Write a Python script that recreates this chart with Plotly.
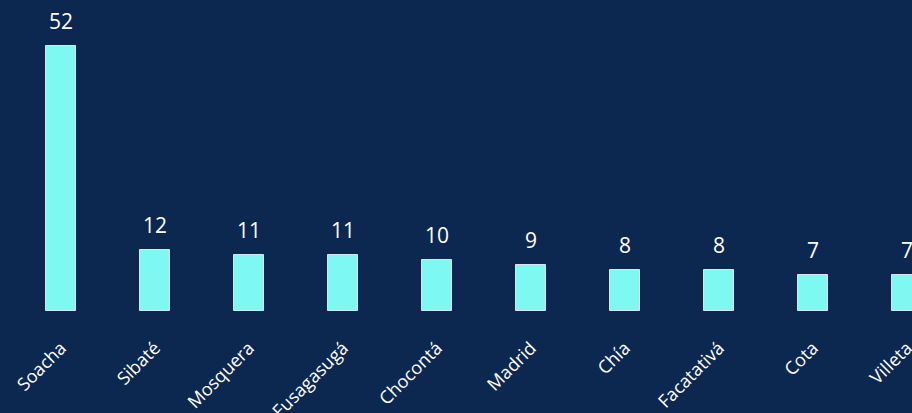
import plotly.graph_objects as go

categories = ["Soacha", "Sibaté", "Mosquera", "Fusagasugá", "Chocontá", "Madrid", "Chía", "Facatativá", "Cota", "Villeta"]
values = [52, 12, 11, 11, 10, 9, 8, 8, 7, 7]

BG = "#0C2850"
BAR = "#7DF9F1"
FONT = "Open Sans"

x_idx = list(range(len(categories)))

fig = go.Figure()
fig.add_trace(go.Bar(
    x=x_idx, y=values,
    width=0.32,
    marker=dict(color=BAR, line=dict(color="rgba(230,240,250,0.9)", width=1)),
    hoverinfo="skip",
))

for xi, v in zip(x_idx, values):
    fig.add_annotation(x=xi, y=v, text=str(v), showarrow=False,
                       yanchor="bottom", yshift=9,
                       font=dict(family=FONT, size=21, color="white"))

fig.update_layout(
    width=912, height=413,
    paper_bgcolor=BG, plot_bgcolor=BG,
    margin=dict(l=0, r=0, t=0, b=102, autoexpand=False),
    showlegend=False,
    bargap=0,
    xaxis=dict(
        range=[-0.649, 9.053],
        tickmode="array", tickvals=x_idx, ticktext=categories,
        tickangle=-45,
        tickfont=dict(family=FONT, size=18, color="white"),
        showgrid=False, zeroline=False, showline=False, ticks="",
        ticklabelstandoff=22,
        ticklabeloverflow="allow",
        automargin=False,
    ),
    yaxis=dict(range=[0, 61], visible=False, showgrid=False, zeroline=False),
)

fig.write_html("out.html", config={"displayModeBar": False},
               post_script="document.body.style.margin='0';document.body.style.overflow='hidden';")
